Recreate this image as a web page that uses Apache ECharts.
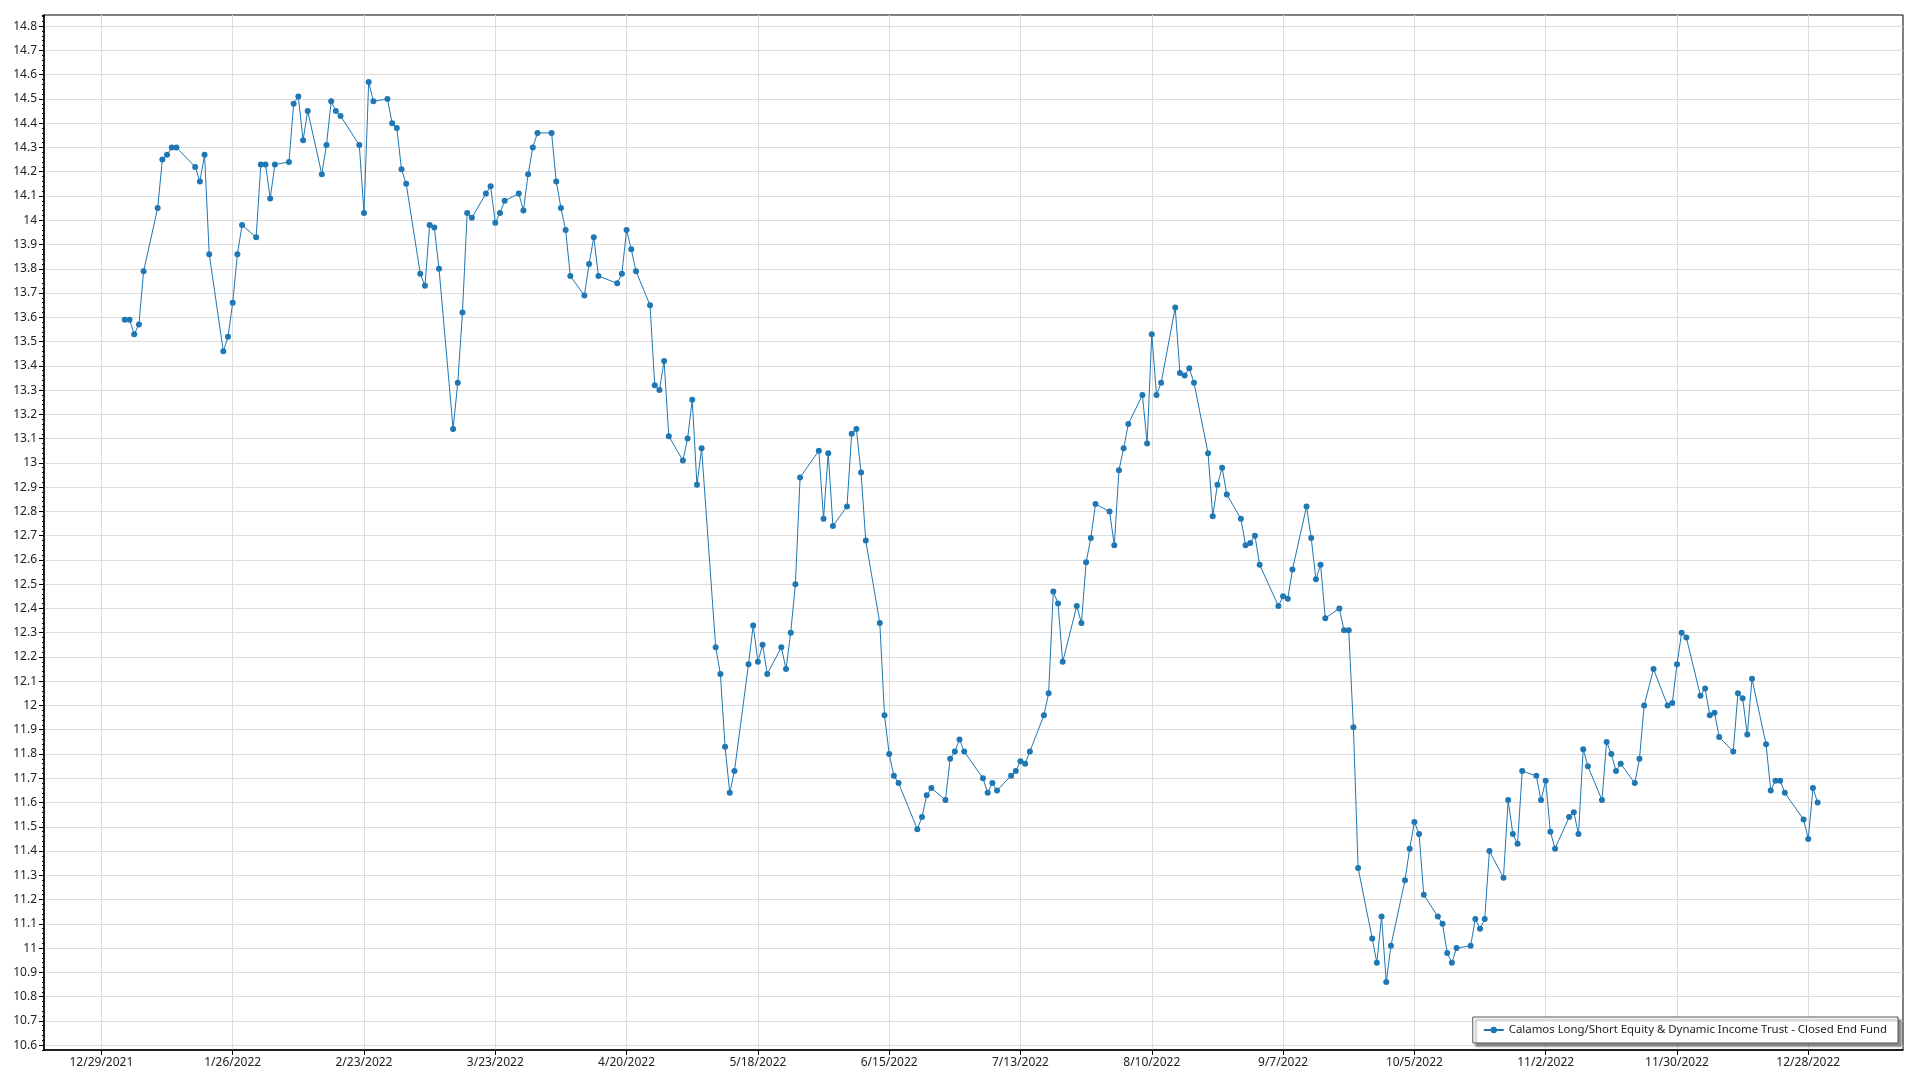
<!DOCTYPE html>
<html>
<head>
<meta charset="utf-8">
<script src="https://cdn.jsdelivr.net/npm/echarts@6/dist/echarts.min.js"></script>
<style>
html,body{margin:0;padding:0;background:#fff;}
#chart{width:1920px;height:1080px;}
</style>
</head>
<body>
<div id="chart"></div>
<script>
const seriesName = 'Calamos Long/Short Equity & Dynamic Income Trust - Closed End Fund';

const dates = [
'2022-01-03','2022-01-04','2022-01-05','2022-01-06','2022-01-07','2022-01-10','2022-01-11','2022-01-12','2022-01-13','2022-01-14',
'2022-01-18','2022-01-19','2022-01-20','2022-01-21','2022-01-24','2022-01-25','2022-01-26','2022-01-27','2022-01-28','2022-01-31',
'2022-02-01','2022-02-02','2022-02-03','2022-02-04','2022-02-07','2022-02-08','2022-02-09','2022-02-10','2022-02-11','2022-02-14',
'2022-02-15','2022-02-16','2022-02-17','2022-02-18','2022-02-22','2022-02-23','2022-02-24','2022-02-25','2022-02-28','2022-03-01',
'2022-03-02','2022-03-03','2022-03-04','2022-03-07','2022-03-08','2022-03-09','2022-03-10','2022-03-11','2022-03-14','2022-03-15',
'2022-03-16','2022-03-17','2022-03-18','2022-03-21','2022-03-22','2022-03-23','2022-03-24','2022-03-25','2022-03-28','2022-03-29',
'2022-03-30','2022-03-31','2022-04-01','2022-04-04','2022-04-05','2022-04-06','2022-04-07','2022-04-08','2022-04-11','2022-04-12',
'2022-04-13','2022-04-14','2022-04-18','2022-04-19','2022-04-20','2022-04-21','2022-04-22','2022-04-25','2022-04-26','2022-04-27',
'2022-04-28','2022-04-29','2022-05-02','2022-05-03','2022-05-04','2022-05-05','2022-05-06','2022-05-09','2022-05-10','2022-05-11',
'2022-05-12','2022-05-13','2022-05-16','2022-05-17','2022-05-18','2022-05-19','2022-05-20','2022-05-23','2022-05-24','2022-05-25',
'2022-05-26','2022-05-27','2022-05-31','2022-06-01','2022-06-02','2022-06-03','2022-06-06','2022-06-07','2022-06-08','2022-06-09',
'2022-06-10','2022-06-13','2022-06-14','2022-06-15','2022-06-16','2022-06-17','2022-06-21','2022-06-22','2022-06-23','2022-06-24',
'2022-06-27','2022-06-28','2022-06-29','2022-06-30','2022-07-01','2022-07-05','2022-07-06','2022-07-07','2022-07-08','2022-07-11',
'2022-07-12','2022-07-13','2022-07-14','2022-07-15','2022-07-18','2022-07-19','2022-07-20','2022-07-21','2022-07-22','2022-07-25',
'2022-07-26','2022-07-27','2022-07-28','2022-07-29','2022-08-01','2022-08-02','2022-08-03','2022-08-04','2022-08-05','2022-08-08',
'2022-08-09','2022-08-10','2022-08-11','2022-08-12','2022-08-15','2022-08-16','2022-08-17','2022-08-18','2022-08-19','2022-08-22',
'2022-08-23','2022-08-24','2022-08-25','2022-08-26','2022-08-29','2022-08-30','2022-08-31','2022-09-01','2022-09-02','2022-09-06',
'2022-09-07','2022-09-08','2022-09-09','2022-09-12','2022-09-13','2022-09-14','2022-09-15','2022-09-16','2022-09-19','2022-09-20',
'2022-09-21','2022-09-22','2022-09-23','2022-09-26','2022-09-27','2022-09-28','2022-09-29','2022-09-30','2022-10-03','2022-10-04',
'2022-10-05','2022-10-06','2022-10-07','2022-10-10','2022-10-11','2022-10-12','2022-10-13','2022-10-14','2022-10-17','2022-10-18',
'2022-10-19','2022-10-20','2022-10-21','2022-10-24','2022-10-25','2022-10-26','2022-10-27','2022-10-28','2022-10-31','2022-11-01',
'2022-11-02','2022-11-03','2022-11-04','2022-11-07','2022-11-08','2022-11-09','2022-11-10','2022-11-11','2022-11-14','2022-11-15',
'2022-11-16','2022-11-17','2022-11-18','2022-11-21','2022-11-22','2022-11-23','2022-11-25','2022-11-28','2022-11-29','2022-11-30',
'2022-12-01','2022-12-02','2022-12-05','2022-12-06','2022-12-07','2022-12-08','2022-12-09','2022-12-12','2022-12-13','2022-12-14',
'2022-12-15','2022-12-16','2022-12-19','2022-12-20','2022-12-21','2022-12-22','2022-12-23','2022-12-27','2022-12-28','2022-12-29',
'2022-12-30'
];

const closes = [
13.59,13.59,13.53,13.57,13.79,14.05,14.25,14.27,14.30,14.30,
14.22,14.16,14.27,13.86,13.46,13.52,13.66,13.86,13.98,13.93,
14.23,14.23,14.09,14.23,14.24,14.48,14.51,14.33,14.45,14.19,
14.31,14.49,14.45,14.43,14.31,14.03,14.57,14.49,14.50,14.40,
14.38,14.21,14.15,13.78,13.73,13.98,13.97,13.80,13.14,13.33,
13.62,14.03,14.01,14.11,14.14,13.99,14.03,14.08,14.11,14.04,
14.19,14.30,14.36,14.36,14.16,14.05,13.96,13.77,13.69,13.82,
13.93,13.77,13.74,13.78,13.96,13.88,13.79,13.65,13.32,13.30,
13.42,13.11,13.01,13.10,13.26,12.91,13.06,12.24,12.13,11.83,
11.64,11.73,12.17,12.33,12.18,12.25,12.13,12.24,12.15,12.30,
12.50,12.94,13.05,12.77,13.04,12.74,12.82,13.12,13.14,12.96,
12.68,12.34,11.96,11.80,11.71,11.68,11.49,11.54,11.63,11.66,
11.61,11.78,11.81,11.86,11.81,11.70,11.64,11.68,11.65,11.71,
11.73,11.77,11.76,11.81,11.96,12.05,12.47,12.42,12.18,12.41,
12.34,12.59,12.69,12.83,12.80,12.66,12.97,13.06,13.16,13.28,
13.08,13.53,13.28,13.33,13.64,13.37,13.36,13.39,13.33,13.04,
12.78,12.91,12.98,12.87,12.77,12.66,12.67,12.70,12.58,12.41,
12.45,12.44,12.56,12.82,12.69,12.52,12.58,12.36,12.40,12.31,
12.31,11.91,11.33,11.04,10.94,11.13,10.86,11.01,11.28,11.41,
11.52,11.47,11.22,11.13,11.10,10.98,10.94,11.00,11.01,11.12,
11.08,11.12,11.40,11.29,11.61,11.47,11.43,11.73,11.71,11.61,
11.69,11.48,11.41,11.54,11.56,11.47,11.82,11.75,11.61,11.85,
11.80,11.73,11.76,11.68,11.78,12.00,12.15,12.00,12.01,12.17,
12.30,12.28,12.04,12.07,11.96,11.97,11.87,11.81,12.05,12.03,
11.88,12.11,11.84,11.65,11.69,11.69,11.64,11.53,11.45,11.66,
11.60
];

const xTickDates = ['2021-12-29','2022-01-26','2022-02-23','2022-03-23','2022-04-20','2022-05-18','2022-06-15',
  '2022-07-13','2022-08-10','2022-09-07','2022-10-05','2022-11-02','2022-11-30','2022-12-28'];

const yTicks = [10.6,10.7,10.8,10.9,11.0,11.1,11.2,11.3,11.4,11.5,11.6,11.7,11.8,11.9,12.0,12.1,12.2,12.3,12.4,12.5,
  12.6,12.7,12.8,12.9,13.0,13.1,13.2,13.3,13.4,13.5,13.6,13.7,13.8,13.9,14.0,14.1,14.2,14.3,14.4,14.5,14.6,14.7,14.8];

function ts(s){ const p = s.split('-').map(Number); return new Date(p[0], p[1]-1, p[2]).getTime(); }
const DAY = 86400000;
const xMin = ts('2021-12-29') - 12.24*DAY;
const xMax = ts('2021-12-29') + 384.2*DAY;
const yMin = 10.58, yMax = 14.846;

const seriesData = dates.map((d,i)=>[ts(d), closes[i]]);
const xTicks = xTickDates.map(ts);
const FONT = '"Noto Sans", "Open Sans", sans-serif';

const chart = echarts.init(document.getElementById('chart'));
chart.setOption({
  animation: false,
  backgroundColor: '#ffffff',
  grid: {left: 44, top: 15, right: 17, bottom: 30, show: true, borderColor: '#000', borderWidth: 1, containLabel: false},
  xAxis: {
    type: 'value', min: xMin, max: xMax,
    axisLine: {show: true, lineStyle: {color: '#000', width: 1.5}},
    axisTick: {show: true, length: 5, lineStyle: {color: '#000'}, customValues: xTicks},
    axisLabel: {
      customValues: xTicks, color: '#222', fontFamily: FONT, fontSize: 12, margin: 7,
      formatter: function(v){ const d = new Date(v); return (d.getMonth()+1)+'/'+d.getDate()+'/'+d.getFullYear(); }
    },
    splitLine: {show: true, lineStyle: {color: '#dcdcdc', width: 1}}
  },
  yAxis: [{
    type: 'value', min: yMin, max: yMax,
    axisLine: {show: true, lineStyle: {color: '#000', width: 1.5}},
    axisTick: {show: true, length: 5, lineStyle: {color: '#000'}, customValues: yTicks},
    axisLabel: {
      customValues: yTicks, color: '#222', fontFamily: FONT, fontSize: 12, margin: 7,
      formatter: function(v){ return String(+(+v).toFixed(1)); }
    },
    splitLine: {show: true, lineStyle: {color: '#dcdcdc', width: 1}}
  },{
    type: 'value', min: yMin, max: yMax, interval: 0.02, position: 'left', offset: 0,
    axisLine: {show: false},
    axisTick: {show: true, length: 2, lineStyle: {color: '#000'}},
    axisLabel: {show: false},
    splitLine: {show: false}
  }],
  legend: {
    show: true, right: 22, top: 1017, orient: 'horizontal',
    backgroundColor: '#fff', borderColor: '#555', borderWidth: 1,
    padding: [6, 11, 6, 10],
    shadowColor: 'rgba(0,0,0,0.45)', shadowBlur: 2, shadowOffsetX: 3, shadowOffsetY: 3,
    itemWidth: 20, itemHeight: 8, itemGap: 6,
    textStyle: {color: '#222', fontFamily: FONT, fontSize: 11.4, lineHeight: 14},
    data: [seriesName]
  },
  series: [{
    name: seriesName, type: 'line', data: seriesData, yAxisIndex: 0,
    showSymbol: true, symbol: 'circle', symbolSize: 6,
    itemStyle: {color: '#1f77b4'},
    lineStyle: {color: '#1f77b4', width: 1}
  }]
});
</script>
</body>
</html>
